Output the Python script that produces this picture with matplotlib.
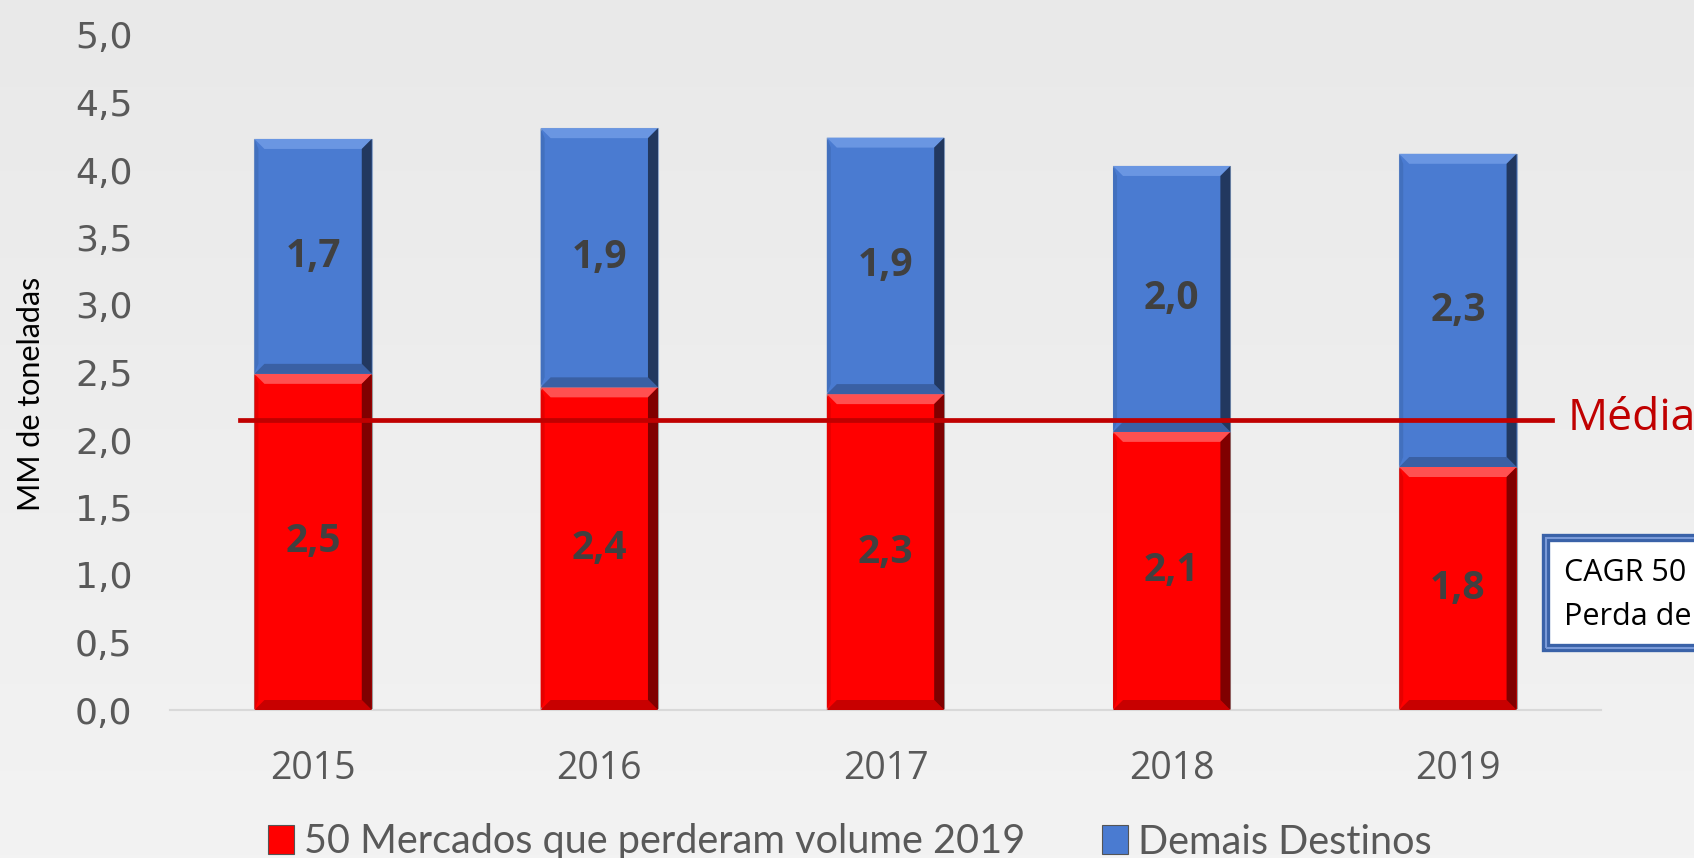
import numpy as np
import matplotlib
matplotlib.use("Agg")
import matplotlib.pyplot as plt
from matplotlib.patches import Rectangle, Polygon
from matplotlib.colors import LinearSegmentedColormap

# ---- data ----
years = ["2015", "2016", "2017", "2018", "2019"]
mercados50 = [2.49, 2.39, 2.34, 2.06, 1.80]
demais = [1.74, 1.92, 1.90, 1.97, 2.32]
labels_mercados = ["2,5", "2,4", "2,3", "2,1", "1,8"]
labels_demais = ["1,7", "1,9", "1,9", "2,0", "2,3"]
media = 2.15
yticks = [0, 0.5, 1, 1.5, 2, 2.5, 3, 3.5, 4, 4.5, 5]
ytick_labels = ["0,0", "0,5", "1,0", "1,5", "2,0", "2,5", "3,0", "3,5", "4,0", "4,5", "5,0"]
legend_labels = ["50 Mercados que perderam volume 2019", "Demais Destinos"]
ylabel = "MM de toneladas"
media_label = "Média"
box_lines = ["CAGR 50", "Perda de"]

W, H = 1694, 858
fig = plt.figure(figsize=(W / 100, H / 100), dpi=100)

# background gradient
bg = fig.add_axes([0, 0, 1, 1], zorder=-10)
grad = np.linspace(0, 1, 256).reshape(-1, 1)
cmap = LinearSegmentedColormap.from_list("bg", ["#E9E9E9", "#F3F3F3"])
bg.imshow(grad, aspect="auto", cmap=cmap, extent=[0, 1, 0, 1], origin="upper")
bg.set_axis_off()

ax_h_px = 710 - 35
ax_w_px = 1601 - 170
ax = fig.add_axes([170 / W, 1 - 710 / H, ax_w_px / W, ax_h_px / H])
ax.patch.set_alpha(0)

x = np.arange(len(years))
bw = 0.41
red = "#FF0000"
blue = "#4A7BD1"
b1 = ax.bar(x, mercados50, width=bw, color=red, edgecolor="#9A9A9A", linewidth=0.8, zorder=2)
b2 = ax.bar(x, demais, width=bw, bottom=mercados50, color=blue, edgecolor="#8FA6C8",
            linewidth=0.8, zorder=2)

# bevel effect derived from each bar's geometry
px_y = 5.0 / ax_h_px          # data units per pixel (y)
px_x = 5.0 / ax_w_px          # data units per pixel (x)
bev_y = 10 * px_y
bev_x = 10 * px_x
styles = [
    (b1, "#FF5050", "#C80000", "#800000", "#E60000"),
    (b2, "#6A96E2", "#3A60A4", "#22385F", "#4270BE"),
]
for bars, top_c, bot_c, right_c, left_c in styles:
    for p in bars:
        x0, y0, w, h = p.get_x(), p.get_y(), p.get_width(), p.get_height()
        x1, y1 = x0 + w, y0 + h
        ax.add_patch(Polygon([(x0, y1), (x1, y1), (x1 - bev_x, y1 - bev_y), (x0 + bev_x, y1 - bev_y)],
                             closed=True, color=top_c, lw=0, zorder=3))
        ax.add_patch(Polygon([(x0, y0), (x1, y0), (x1 - bev_x, y0 + bev_y), (x0 + bev_x, y0 + bev_y)],
                             closed=True, color=bot_c, lw=0, zorder=3))
        ax.add_patch(Polygon([(x1, y0), (x1, y1), (x1 - bev_x, y1 - bev_y), (x1 - bev_x, y0 + bev_y)],
                             closed=True, color=right_c, lw=0, zorder=3))
        ax.add_patch(Polygon([(x0, y0), (x0, y1), (x0 + 0.4 * bev_x, y1 - bev_y), (x0 + 0.4 * bev_x, y0 + bev_y)],
                             closed=True, color=left_c, lw=0, zorder=3))

lab_font = dict(fontsize=28, fontweight="bold", color="#404040", family="Open Sans",
                ha="center", va="center", zorder=5)
for i in range(len(years)):
    ax.text(x[i], mercados50[i] / 2, labels_mercados[i], **lab_font)
    ax.text(x[i], mercados50[i] + demais[i] / 2, labels_demais[i], **lab_font)

ax.set_xlim(-0.5, len(years) - 0.5)
ax.set_ylim(0, 5)
ax.set_yticks(yticks)
ax.set_yticklabels(ytick_labels, fontsize=26, color="#595959", family="DejaVu Sans")
ax.set_xticks(x)
ax.set_xticklabels(years, fontsize=27, color="#595959", family="Open Sans")
ax.tick_params(axis="y", length=0, pad=27)
ax.tick_params(axis="x", length=0, pad=29)
for s in ["left", "right", "top"]:
    ax.spines[s].set_visible(False)
ax.spines["bottom"].set_color("#D9D9D9")
ax.spines["bottom"].set_linewidth(1.5)

# media line
ax.axhline(media, xmin=70 / ax_w_px, xmax=1382 / ax_w_px, color="#C00000", lw=3.4, zorder=4)
fig.text(1568 / W, 1 - 419 / H, media_label, fontsize=32, color="#C00000",
         family="Open Sans", ha="left", va="center")

# y label
fig.text(31 / W, 1 - 394 / H, ylabel, rotation=90, fontsize=22, color="black",
         family="Lato", ha="center", va="center")

# CAGR box
fig.patches.append(Rectangle((1546 / W, 1 - 648 / H), 0.2, 110 / H, transform=fig.transFigure,
                             facecolor="white", edgecolor="#3A62A8", linewidth=6, zorder=1))
fig.patches.append(Rectangle((1546 / W, 1 - 648 / H), 0.2, 110 / H, transform=fig.transFigure,
                             facecolor="none", edgecolor="#7A9AD8", linewidth=1.5, zorder=2))
fig.text(1564 / W, 1 - 573 / H, box_lines[0], fontsize=22, color="black", family="Open Sans",
         ha="left", va="center")
fig.text(1564 / W, 1 - 617 / H, box_lines[1], fontsize=22, color="black", family="Open Sans",
         ha="left", va="center")

# legend
leg = fig.legend([b1, b2], legend_labels, loc="center left",
                 bbox_to_anchor=(268 / W, 1 - 842 / H), ncol=2, frameon=False,
                 prop=dict(family="Lato", size=28.5),
                 handlelength=0.65, handleheight=0.75, handletextpad=0.25,
                 columnspacing=1.95, borderpad=0, borderaxespad=0)
for t in leg.get_texts():
    t.set_color("#595959")
for h in leg.legend_handles:
    h.set_edgecolor("#555555")

fig.savefig("out.png", dpi=100)
